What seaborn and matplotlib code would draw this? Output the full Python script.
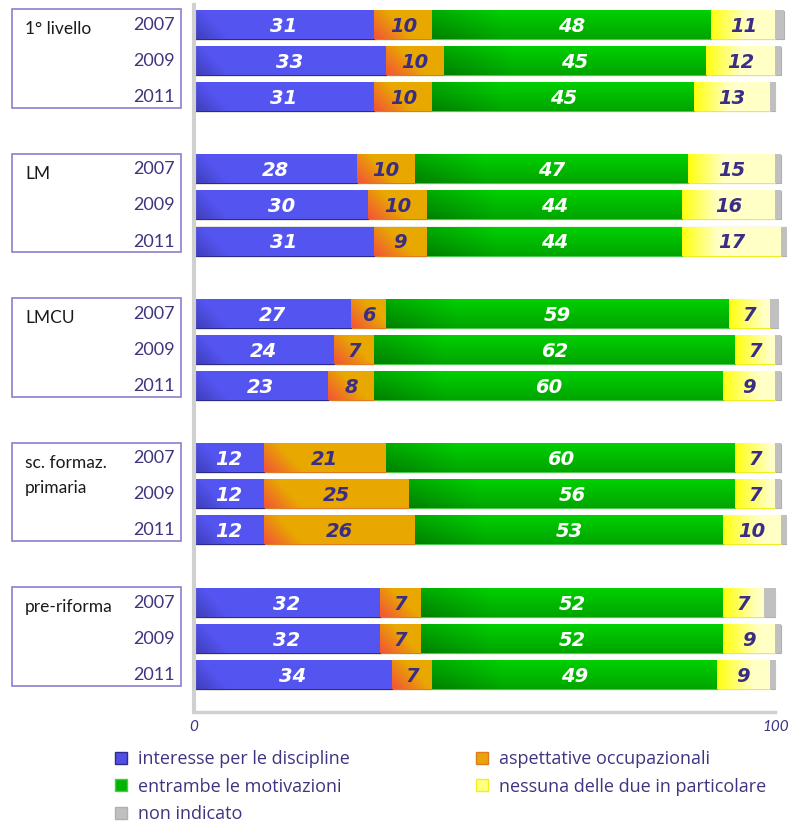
import numpy as np
import pandas as pd
import matplotlib
matplotlib.use("Agg")
import matplotlib.pyplot as plt
import matplotlib.transforms as mtransforms
from matplotlib.colors import to_rgb
from matplotlib.patches import Rectangle, Patch
import seaborn as sns

groups = ["1° livello", "LM", "LMCU", "sc. formaz.\nprimaria", "pre-riforma"]
years = ["2007", "2009", "2011"]

interesse = [31, 33, 31, 28, 30, 31, 27, 24, 23, 12, 12, 12, 32, 32, 34]
aspettative = [10, 10, 10, 10, 10, 9, 6, 7, 8, 21, 25, 26, 7, 7, 7]
entrambe = [48, 45, 45, 47, 44, 44, 59, 62, 60, 60, 56, 53, 52, 52, 49]
nessuna = [11, 12, 13, 15, 16, 17, 7, 7, 9, 7, 7, 10, 7, 9, 9]
non_indicato = [1.5, 1, 1, 1, 1, 1, 1.5, 1, 1, 1, 1, 1, 2, 1, 1]

categories = ["interesse per le discipline", "aspettative occupazionali",
              "entrambe le motivazioni", "nessuna delle due in particolare",
              "non indicato"]
colors = ["#4f4fe6", "#e8a40a", "#00b400", "#ffff80", "#c0c0c0"]
edges = ["#2c2c8c", "#e07a20", "#4fc84f", "#f0f020", "#b0b0b0"]
label_colors = ["white", "#3a2d86", "white", "#3a2d86", None]

TXT = "#3d3580"
PX_PER_UNIT = 5.82
BAR_H = 0.78

sns.set_theme(style="white")
plt.rcParams["font.family"] = ["Lato", "DejaVu Sans"]


def gradient(kind, width_units, h=28):
    """Office-like fill for one segment, as an RGB array."""
    w = max(int(round(width_units * PX_PER_UNIT)), 2)
    x = np.arange(w)[None, :].repeat(h, 0).astype(float)
    y = np.arange(h)[:, None].repeat(w, 1).astype(float)
    if kind == 0:      # blue, slightly darker lower-left corner
        c0, c1 = to_rgb("#3c3cb4"), to_rgb("#5454f0")
        t = np.clip((x + (h - y)) / 35, 0, 1)
    elif kind == 1:    # orange, red-orange lower-left corner
        c0, c1 = to_rgb("#f3503a"), to_rgb("#e8a800")
        t = np.clip((x + (h - y)) / 40, 0, 1)
    elif kind == 2:    # green, darker at bottom and left
        c0, c1 = to_rgb("#007f00"), to_rgb("#00d000")
        t = np.clip(0.55 * (1 - y / h) + 0.45 * np.clip(x / 70, 0, 1), 0, 1)
    elif kind == 3:    # yellow, bright left to pale right
        c0, c1 = to_rgb("#ffff10"), to_rgb("#ffffc6")
        t = np.clip(x / 35, 0, 1)
    else:
        c0 = c1 = to_rgb("#c0c0c0")
        t = np.zeros((h, w))
    c0, c1 = np.array(c0), np.array(c1)
    return c0 + (c1 - c0) * t[..., None]


# row positions: 3 years per group, one empty row between groups
pos = [g * 4 + r for g in range(len(groups)) for r in range(len(years))]
series = [interesse, aspettative, entrambe, nessuna, non_indicato]
df = pd.DataFrame({"pos": pos})
for name, vals in zip(categories, series):
    df[name] = vals
cum = df[categories].cumsum(axis=1)

fig = plt.figure(figsize=(7.92, 8.24), dpi=100)
ax = fig.add_axes([194 / 792, 1 - 712 / 824, (787 - 194) / 792, (712 - 5) / 824])

# stacked bars: draw cumulative ends from the last category to the first
for i in range(len(categories) - 1, -1, -1):
    plot_df = pd.DataFrame({"pos": df["pos"], "end": cum[categories[i]]})
    sns.barplot(data=plot_df, x="end", y="pos", orient="h", native_scale=True,
                color=colors[i], saturation=1, errorbar=None, width=BAR_H,
                edgecolor=edges[i], linewidth=0.8, ax=ax)

# gradient fills over each visible segment, then value labels
for i, name in enumerate(categories):
    starts = cum[name] - df[name]
    for p, s, v in zip(df["pos"], starts, df[name]):
        ax.imshow(gradient(i, v), extent=[s, s + v, p + BAR_H / 2, p - BAR_H / 2],
                  aspect="auto", interpolation="bilinear", zorder=2)
        if label_colors[i] is not None:
            ax.text(s + v / 2, p + 0.04, f"{v:g}", ha="center", va="center",
                    fontsize=14, fontweight="bold", fontstyle="italic",
                    color=label_colors[i], family="DejaVu Sans", zorder=4)

ax.set_xlim(0, 102)
ax.set_ylim(19.03, -0.55)
ax.set_xlabel("")
ax.set_ylabel("")
ax.set_yticks([])
ax.set_xticks([0, 100])
ax.set_xticklabels(["0", "100"], fontstyle="italic", color=TXT, fontsize=11)
ax.tick_params(axis="x", direction="in", length=6, width=2, color="#cfcfcf", pad=6)
for side in ["top", "right"]:
    ax.spines[side].set_visible(False)
ax.spines["left"].set_color("#d0d0d0")
ax.spines["left"].set_linewidth(3)
ax.spines["bottom"].set_color("#d0d0d0")
ax.spines["bottom"].set_linewidth(2.5)
ax.spines["bottom"].set_bounds(0, 100)

# group boxes and year labels on the left
trans = mtransforms.blended_transform_factory(fig.transFigure, ax.transData)
for g, gname in enumerate(groups):
    r0 = g * 4
    fig.add_artist(Rectangle((12 / 792, r0 - 0.43), (181 - 12) / 792, 2.73,
                             transform=trans, fill=False, edgecolor="#8a7fcf",
                             linewidth=1.2, clip_on=False))
    ax.text(25 / 792, r0 - 0.1, gname, transform=trans, ha="left", va="top",
            fontsize=12.5, color="#1a1a1a", linespacing=1.7, clip_on=False)
    for r, yr in enumerate(years):
        ax.text(175 / 792, r0 + r, yr, transform=trans, ha="right", va="center",
                fontsize=13, color=TXT, clip_on=False)

# legend, row-major order
handles = [Patch(facecolor=c, edgecolor=e, linewidth=1) for c, e in zip(colors, edges)]
order = [0, 2, 4, 1, 3]
fig.legend([handles[i] for i in order], [categories[i] for i in order],
           loc="upper left", bbox_to_anchor=(108 / 792, 1 - 743 / 824), ncol=2,
           frameon=False, handlelength=0.65, handleheight=0.65,
           handletextpad=0.6, columnspacing=7.0, labelspacing=0.52,
           labelcolor=TXT, borderaxespad=0,
           prop={"family": "Open Sans", "size": 13})

fig.savefig("out.png", dpi=100)
